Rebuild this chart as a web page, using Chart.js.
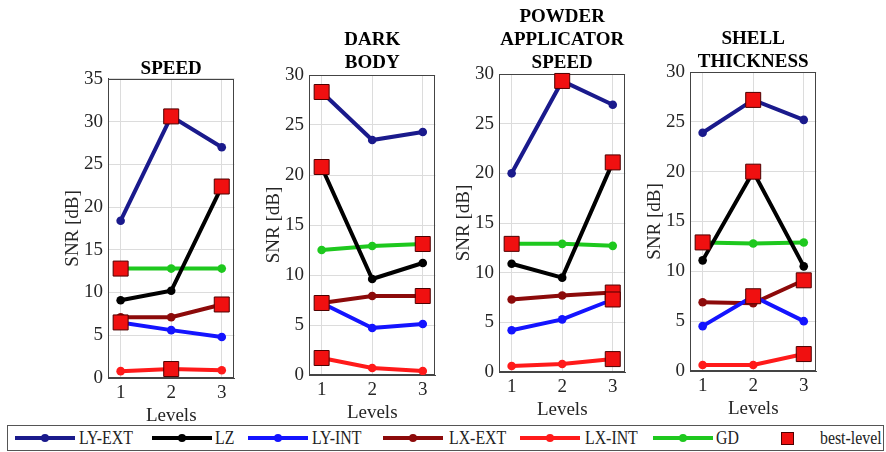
<!DOCTYPE html>
<html>
<head>
<meta charset="utf-8">
<script src="https://cdn.jsdelivr.net/npm/chart.js@4/dist/chart.umd.min.js"></script>
<style>
  html, body { margin:0; padding:0; background:#fff; }
  body { width:886px; height:452px; position:relative; overflow:hidden; font-family:"Liberation Serif", "Times New Roman", serif; }
  canvas { position:absolute; top:0; }
  #legendBox { position:absolute; left:7px; top:425px; width:877px; height:26px; border:1px solid #555; box-sizing:border-box; }
  .lgLine { position:absolute; height:4px; }
  .lgDot { position:absolute; width:8px; height:8px; border-radius:50%; }
  .lgText { position:absolute; font-size:18px; line-height:18px; color:#222; white-space:nowrap; transform:scaleX(0.88); transform-origin:0 50%; }
  .lgSq { position:absolute; width:13px; height:13px; background:#f01010; border:1px solid #4d0000; box-sizing:border-box; }
</style>
</head>
<body>
<div id="legendBox"></div>
<script>
// ---------------- data ----------------
const levels = [1, 2, 3];
const panelTitles = [['SPEED'], ['DARK', 'BODY'], ['POWDER', 'APPLICATOR', 'SPEED'], ['SHELL', 'THICKNESS']];
const yMaxima = [35, 30, 30, 30];
const yTickStep = 5;
const xAxisLabel = 'Levels';
const yAxisLabel = 'SNR [dB]';
const seriesNames = ['LY-EXT', 'LZ', 'LY-INT', 'LX-EXT', 'LX-INT', 'GD'];
const bestLevelName = 'best-level';

// one row per panel (SPEED, DARK BODY, POWDER APPLICATOR SPEED, SHELL THICKNESS), values at levels 1..3
const LY_EXT = [[18.4, 30.6, 27.0], [28.3, 23.5, 24.3], [20.0, 29.3, 26.9], [23.9, 27.2, 25.2]];
const LZ     = [[9.1, 10.2, 22.4],  [20.8, 9.6, 11.2],  [10.9, 9.5, 21.1],  [11.1, 20.0, 10.5]];
const LY_INT = [[6.5, 5.6, 4.8],    [7.2, 4.7, 5.1],    [4.2, 5.3, 7.3],    [4.5, 7.5, 5.0]];
const LX_EXT = [[7.1, 7.1, 8.6],    [7.2, 7.9, 7.9],    [7.3, 7.7, 8.0],    [6.9, 6.8, 9.1]];
const LX_INT = [[0.8, 1.05, 0.9],   [1.7, 0.7, 0.4],    [0.6, 0.8, 1.3],    [0.6, 0.6, 1.7]];
const GD     = [[12.8, 12.8, 12.8], [12.5, 12.9, 13.1], [12.9, 12.9, 12.7], [12.9, 12.8, 12.9]];
const seriesValues = [LY_EXT, LZ, LY_INT, LX_EXT, LX_INT, GD];

// best-level markers per panel: [level, series]
const bestLevel = [
  [[1, 'GD'], [1, 'LY-INT'], [2, 'LY-EXT'], [2, 'LX-INT'], [3, 'LZ'], [3, 'LX-EXT']],
  [[1, 'LY-EXT'], [1, 'LZ'], [1, 'LX-EXT'], [1, 'LX-INT'], [3, 'GD'], [3, 'LX-EXT']],
  [[1, 'GD'], [2, 'LY-EXT'], [3, 'LZ'], [3, 'LX-EXT'], [3, 'LY-INT'], [3, 'LX-INT']],
  [[1, 'GD'], [2, 'LY-EXT'], [2, 'LZ'], [2, 'LY-INT'], [3, 'LX-EXT'], [3, 'LX-INT']]
];

// ---------------- styles / layout ----------------
const seriesColors = ['#1a1a8c', '#000000', '#1414ff', '#8c0a0a', '#ff1a1a', '#1ec81e'];
const FONT = 'Liberation Serif';
const plotLeft   = [108, 309, 499, 690];
const plotRight  = [242, 443, 633, 824];
const plotBottom = [378, 375, 372, 371];
const titlePadTop    = [58, 29, 5.6, 27.6];
const titlePadBottom = [-2, 0.4, 0, -1.2];
const Y_AXIS_W = 48, X_AXIS_H = 49, PAD_R = 4;

const framePlugin = {
  id: 'frame',
  beforeDatasetsDraw(chart) {
    const {ctx, chartArea: a} = chart;
    ctx.save();
    ctx.strokeStyle = '#444';
    ctx.lineWidth = 1;
    ctx.strokeRect(Math.round(a.left) + 0.5, Math.round(a.top) + 0.5, Math.round(a.right - a.left) - 1, Math.round(a.bottom - a.top) - 1);
    ctx.restore();
  }
};

for (let p = 0; p < 4; p++) {
  const cv = document.createElement('canvas');
  const left = plotLeft[p] - Y_AXIS_W;
  const w = plotRight[p] - left + PAD_R;
  const h = plotBottom[p] + X_AXIS_H;
  cv.width = w; cv.height = h;
  cv.style.left = left + 'px';
  cv.style.width = w + 'px'; cv.style.height = h + 'px';
  document.body.appendChild(cv);

  const datasets = [];
  const bestPts = bestLevel[p].map(([lv, name]) => ({x: lv, y: seriesValues[seriesNames.indexOf(name)][p][lv - 1]}));
  datasets.push({
    label: bestLevelName, data: bestPts, showLine: false, order: 0, clip: false,
    pointStyle: 'rect', pointRadius: 10.6, pointBackgroundColor: '#f01010',
    pointBorderColor: '#4d0000', pointBorderWidth: 1
  });
  seriesNames.forEach((name, i) => {
    datasets.push({
      label: name,
      data: levels.map((lv, k) => ({x: lv, y: seriesValues[i][p][k]})),
      showLine: true, order: 1,
      borderColor: seriesColors[i], backgroundColor: seriesColors[i],
      borderWidth: 4, pointRadius: 4.3, pointBackgroundColor: seriesColors[i],
      pointBorderColor: seriesColors[i], pointBorderWidth: 0
    });
  });

  new Chart(cv, {
    type: 'scatter',
    data: {datasets},
    plugins: [framePlugin],
    options: {
      responsive: false, animation: false, devicePixelRatio: 1,
      layout: {padding: {left: 0, right: PAD_R, top: 0, bottom: 0}},
      plugins: {
        legend: {display: false}, tooltip: {enabled: false},
        title: {
          display: true, text: panelTitles[p], fullSize: false, color: '#000',
          font: {family: FONT, size: 19, weight: 'bold', lineHeight: 1.2},
          padding: {top: titlePadTop[p], bottom: titlePadBottom[p]}
        }
      },
      scales: {
        x: {
          type: 'linear', min: 0.75, max: 3.25,
          afterBuildTicks: s => { s.ticks = levels.map(v => ({value: v})); },
          afterFit: s => { s.height = X_AXIS_H; },
          grid: {color: '#dcdcdc', drawTicks: false},
          border: {color: '#444', width: 1},
          ticks: {font: {family: FONT, size: 19}, color: '#262626', padding: 4, maxRotation: 0, autoSkip: false},
          title: {display: true, text: xAxisLabel, font: {family: FONT, size: 19}, color: '#262626', padding: 0}
        },
        y: {
          type: 'linear', min: 0, max: yMaxima[p],
          afterFit: s => { s.width = Y_AXIS_W; },
          grid: {color: '#dcdcdc', drawTicks: false},
          border: {color: '#444', width: 1},
          ticks: {stepSize: yTickStep, font: {family: FONT, size: 19}, color: '#262626', padding: 5},
          title: {display: true, text: yAxisLabel, font: {family: FONT, size: 19}, color: '#262626', padding: 1.6}
        }
      }
    }
  });
}

// ---------------- legend ----------------
const lgLineStart = [15, 152, 248, 383, 520, 653];
const lgTextStart = [79, 215, 312, 449, 585, 716];
const LG_LINE_LEN = 60, LG_CY = 438;
const bestSqX = 787, bestTextX = 820;
seriesNames.forEach((name, i) => {
  const ln = document.createElement('div');
  ln.className = 'lgLine';
  ln.style.left = lgLineStart[i] + 'px'; ln.style.width = LG_LINE_LEN + 'px';
  ln.style.top = (LG_CY - 2) + 'px'; ln.style.background = seriesColors[i];
  document.body.appendChild(ln);
  const dot = document.createElement('div');
  dot.className = 'lgDot';
  dot.style.left = (lgLineStart[i] + LG_LINE_LEN / 2 - 4) + 'px';
  dot.style.top = (LG_CY - 4) + 'px'; dot.style.background = seriesColors[i];
  document.body.appendChild(dot);
  const tx = document.createElement('div');
  tx.className = 'lgText';
  tx.style.left = lgTextStart[i] + 'px'; tx.style.top = (LG_CY - 9) + 'px';
  tx.textContent = name;
  document.body.appendChild(tx);
});
const sq = document.createElement('div');
sq.className = 'lgSq';
sq.style.left = (bestSqX - 6.5) + 'px'; sq.style.top = (LG_CY - 6.5) + 'px';
document.body.appendChild(sq);
const bt = document.createElement('div');
bt.className = 'lgText';
bt.style.left = bestTextX + 'px'; bt.style.top = (LG_CY - 9) + 'px';
bt.textContent = bestLevelName;
document.body.appendChild(bt);
</script>
</body>
</html>
